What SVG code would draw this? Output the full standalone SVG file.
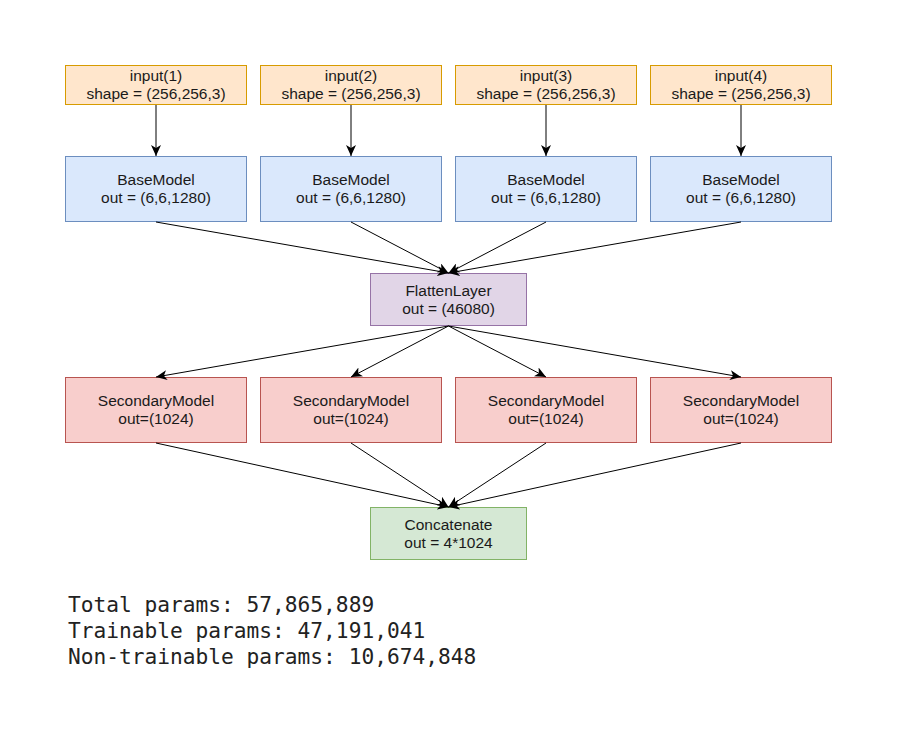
<svg xmlns="http://www.w3.org/2000/svg" width="899" height="756" viewBox="0 0 899 756">
<defs>
<style>
text{font-family:"Liberation Sans",Arial,sans-serif;font-size:15.5px;fill:#1a1a1a;text-anchor:middle}
.in rect{fill:#ffe6cc;stroke:#d79b00}
.base rect{fill:#dae8fc;stroke:#6c8ebf}
.fl rect{fill:#e1d5e7;stroke:#9673a6}
.sec rect{fill:#f8cecc;stroke:#b85450}
.cat rect{fill:#d5e8d4;stroke:#82b366}
.edge line{stroke:#000;stroke-width:1;marker-end:url(#arr)}
.mono{font-family:"DejaVu Sans Mono","Liberation Mono",monospace;font-size:21.2px;text-anchor:start;fill:#222}
</style>
<marker id="arr" markerUnits="userSpaceOnUse" markerWidth="12" markerHeight="10" viewBox="0 0 12 10" refX="11" refY="5" orient="auto">
<path d="M0,0 L11,5 L0,10 L3,5 z" fill="#000"/>
</marker>
</defs>
<rect width="899" height="756" fill="#fff"/>
<g id="input1" class="in"><rect x="65.5" y="65.5" width="181" height="39"/><text x="156" y="81">input(1)</text><text x="156" y="99">shape = (256,256,3)</text></g>
<g id="input2" class="in"><rect x="260.5" y="65.5" width="181" height="39"/><text x="351" y="81">input(2)</text><text x="351" y="99">shape = (256,256,3)</text></g>
<g id="input3" class="in"><rect x="455.5" y="65.5" width="181" height="39"/><text x="546" y="81">input(3)</text><text x="546" y="99">shape = (256,256,3)</text></g>
<g id="input4" class="in"><rect x="650.5" y="65.5" width="181" height="39"/><text x="741" y="81">input(4)</text><text x="741" y="99">shape = (256,256,3)</text></g>
<g id="base1" class="base"><rect x="65.5" y="156.5" width="181" height="65"/><text x="156" y="185">BaseModel</text><text x="156" y="203">out = (6,6,1280)</text></g>
<g id="base2" class="base"><rect x="260.5" y="156.5" width="181" height="65"/><text x="351" y="185">BaseModel</text><text x="351" y="203">out = (6,6,1280)</text></g>
<g id="base3" class="base"><rect x="455.5" y="156.5" width="181" height="65"/><text x="546" y="185">BaseModel</text><text x="546" y="203">out = (6,6,1280)</text></g>
<g id="base4" class="base"><rect x="650.5" y="156.5" width="181" height="65"/><text x="741" y="185">BaseModel</text><text x="741" y="203">out = (6,6,1280)</text></g>
<g id="flatten" class="fl"><rect x="370.5" y="273.5" width="156" height="52"/><text x="448.5" y="296">FlattenLayer</text><text x="448.5" y="314">out = (46080)</text></g>
<g id="sec1" class="sec"><rect x="65.5" y="377.5" width="181" height="65"/><text x="156" y="406">SecondaryModel</text><text x="156" y="424">out=(1024)</text></g>
<g id="sec2" class="sec"><rect x="260.5" y="377.5" width="181" height="65"/><text x="351" y="406">SecondaryModel</text><text x="351" y="424">out=(1024)</text></g>
<g id="sec3" class="sec"><rect x="455.5" y="377.5" width="181" height="65"/><text x="546" y="406">SecondaryModel</text><text x="546" y="424">out=(1024)</text></g>
<g id="sec4" class="sec"><rect x="650.5" y="377.5" width="181" height="65"/><text x="741" y="406">SecondaryModel</text><text x="741" y="424">out=(1024)</text></g>
<g id="concat" class="cat"><rect x="370.5" y="507.5" width="156" height="52"/><text x="448.5" y="530">Concatenate</text><text x="448.5" y="548">out = 4*1024</text></g>
<g id="connectors" class="edge">
<line x1="156" y1="105" x2="156" y2="156"/>
<line x1="351" y1="105" x2="351" y2="156"/>
<line x1="546" y1="105" x2="546" y2="156"/>
<line x1="741" y1="105" x2="741" y2="156"/>
<line x1="156" y1="222" x2="448.5" y2="273"/>
<line x1="351" y1="222" x2="448.5" y2="273"/>
<line x1="546" y1="222" x2="448.5" y2="273"/>
<line x1="741" y1="222" x2="448.5" y2="273"/>
<line x1="448.5" y1="326" x2="156" y2="377"/>
<line x1="448.5" y1="326" x2="351" y2="377"/>
<line x1="448.5" y1="326" x2="546" y2="377"/>
<line x1="448.5" y1="326" x2="741" y2="377"/>
<line x1="156" y1="443" x2="448.5" y2="507"/>
<line x1="351" y1="443" x2="448.5" y2="507"/>
<line x1="546" y1="443" x2="448.5" y2="507"/>
<line x1="741" y1="443" x2="448.5" y2="507"/>
</g>
<g id="params">
<text class="mono" x="68" y="612">Total params: 57,865,889</text>
<text class="mono" x="68" y="638">Trainable params: 47,191,041</text>
<text class="mono" x="68" y="664">Non-trainable params: 10,674,848</text>
</g>
</svg>
